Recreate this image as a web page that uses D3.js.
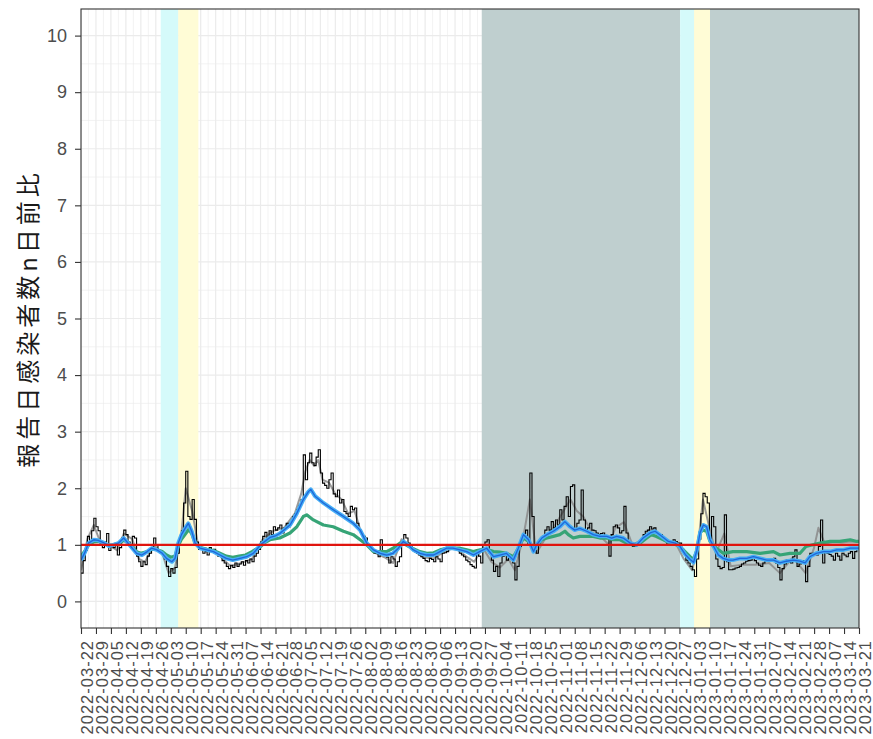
<!DOCTYPE html>
<html><head><meta charset="utf-8">
<script src="https://cdn.jsdelivr.net/npm/d3@7"></script>
<style>body{margin:0;background:#fff}svg{display:block}</style>
</head><body>
<svg id="c" width="873" height="739"></svg>
<script>
// ---------------- DATA ----------------
const startDate = "2022-03-22";
const tickLabels = ["2022-03-22","2022-03-29","2022-04-05","2022-04-12","2022-04-19","2022-04-26","2022-05-03","2022-05-10","2022-05-17","2022-05-24","2022-05-31","2022-06-07","2022-06-14","2022-06-21","2022-06-28","2022-07-05","2022-07-12","2022-07-19","2022-07-26","2022-08-02","2022-08-09","2022-08-16","2022-08-23","2022-08-30","2022-09-06","2022-09-13","2022-09-20","2022-09-27","2022-10-04","2022-10-11","2022-10-18","2022-10-25","2022-11-01","2022-11-08","2022-11-15","2022-11-22","2022-11-29","2022-12-06","2022-12-13","2022-12-20","2022-12-27","2023-01-03","2023-01-10","2023-01-17","2023-01-24","2023-01-31","2023-02-07","2023-02-14","2023-02-21","2023-02-28","2023-03-07","2023-03-14","2023-03-21"];
const yTicks = [0,1,2,3,4,5,6,7,8,9,10];

// daily ratio (black step line), one value per day from startDate
const dailyRatio = [
0.50,0.72,0.90,1.15,1.00,1.25,1.47,
1.32,1.25,1.02,0.95,1.05,1.20,0.90,
1.00,0.95,1.00,0.82,0.95,1.12,1.26,
1.18,1.05,1.00,1.15,1.12,0.80,0.70,
0.62,0.70,0.65,0.80,0.85,0.92,1.12,
1.00,0.90,0.88,0.85,0.75,0.62,0.44,
0.58,0.50,0.60,0.85,1.10,1.25,1.74,
2.30,1.50,1.45,1.80,1.45,1.05,0.92,
0.95,0.85,0.88,0.82,0.95,0.88,0.92,
0.85,0.80,0.82,0.72,0.68,0.62,0.58,
0.64,0.60,0.68,0.62,0.66,0.70,0.64,
0.72,0.68,0.75,0.70,0.80,0.85,0.92,
1.05,1.15,1.22,1.10,1.25,1.18,1.32,
1.26,1.30,1.35,1.21,1.30,1.38,1.32,
1.40,1.50,1.55,1.62,1.70,1.80,2.59,
2.15,2.45,2.62,2.45,2.40,2.55,2.68,
2.27,2.09,2.05,2.00,2.15,2.27,1.90,
1.85,1.97,1.74,1.80,1.59,1.55,1.50,
1.68,1.62,1.65,1.38,1.27,1.20,1.15,
1.12,1.00,0.94,0.90,0.85,0.88,0.79,
1.09,0.85,0.82,0.78,0.68,0.79,0.75,
0.62,0.70,0.79,1.03,1.18,1.12,1.03,
0.97,0.92,0.88,0.85,0.82,0.79,0.76,
0.72,0.70,0.76,0.74,0.70,0.79,0.75,
0.70,0.85,0.86,0.88,0.94,0.92,0.94,
0.92,0.91,0.85,0.82,0.79,0.73,0.70,
0.65,0.62,0.59,0.91,0.80,0.68,1.00,
1.05,1.09,0.85,0.73,0.53,0.62,0.44,
0.68,0.80,0.85,0.73,0.79,0.75,0.68,
0.38,0.62,0.97,1.09,1.20,1.26,1.03,
2.27,1.50,0.90,0.85,1.03,1.10,1.15,
1.26,1.32,1.26,1.41,1.30,1.44,1.35,
1.62,1.44,1.68,1.85,1.50,2.03,2.06,
1.26,1.38,1.44,1.97,1.44,1.26,1.30,
1.38,1.26,1.25,1.21,1.18,1.20,1.21,
1.15,1.15,0.80,1.18,1.32,1.35,1.30,
1.21,1.25,1.68,1.21,1.03,1.00,0.97,
0.98,1.00,1.05,1.09,1.18,1.24,1.26,
1.32,1.28,1.30,1.21,1.18,1.18,1.12,
1.06,1.03,1.03,1.05,1.09,1.06,1.03,
1.03,0.92,0.85,0.73,0.68,0.62,0.56,
0.44,0.75,1.10,1.55,1.91,1.85,1.74,
1.10,1.50,1.32,0.75,0.62,0.58,0.60,
1.53,0.70,0.56,0.56,0.57,0.59,0.60,
0.62,0.66,0.68,0.71,0.72,0.73,0.76,
0.72,0.68,0.64,0.62,0.68,0.72,0.73,
0.71,0.74,0.76,0.68,0.60,0.38,0.58,
0.66,0.73,0.70,0.68,0.79,0.91,0.62,
0.66,0.70,0.72,0.35,0.62,0.85,0.85,
0.84,0.82,0.97,1.44,0.68,0.88,0.85,
0.83,0.80,0.73,0.85,0.80,0.73,0.85,
0.82,0.79,0.85,0.88,0.76,0.88,0.94,
0.92];

// grey line: day offset from startDate, value
const greyDays = [0,3,6,9,13,17,20,24,27,30,34,38,41,44,47,49,52,55,60,65,70,75,80,85,90,95,100,103,105,107,109,111,113,116,119,122,125,128,131,134,138,142,146,150,155,160,165,170,175,180,184,188,192,196,200,203,207,210,213,217,221,225,229,232,235,239,243,247,250,254,258,262,266,270,274,278,282,286,289,291,294,297,301,304,310,316,322,327,333,339,343,345,348,352,356,360,364];
const greyValues = [0.55,1.10,1.35,1.05,1.00,0.90,1.20,1.10,0.75,0.70,1.00,0.85,0.50,0.60,1.20,2.00,1.60,0.95,0.92,0.80,0.62,0.68,0.75,1.10,1.25,1.30,1.55,1.90,2.30,2.50,2.40,2.50,2.15,2.10,1.90,1.80,1.55,1.60,1.22,1.00,0.85,0.78,0.68,1.10,0.92,0.78,0.76,0.88,0.95,0.80,0.70,0.95,0.70,0.60,0.75,0.55,1.15,1.80,0.85,1.10,1.30,1.55,1.80,1.60,1.50,1.22,1.15,1.00,1.30,1.40,1.00,1.08,1.28,1.20,1.05,1.05,0.75,0.55,1.10,1.80,1.30,0.85,1.20,0.62,0.65,0.65,0.68,0.50,0.78,0.50,0.95,1.30,1.02,1.05,1.04,1.06,1.05];

// green smoothed ratio
const greenDays = [0,2,4,6,8,10,13,15,18,20,22,24,26,28,31,33,35,38,40,42,44,45.5,47,49,50.5,52,53.5,56,59,62,65,68,71,74,77,80,84,86,88.4,93,97.8,101,104,105.6,108.7,113.4,118,122.8,127.4,130.6,133.7,136.8,140,143,146,149.3,152,155,158.6,161.8,165,168,171,174,177.4,180.5,183.6,186.7,189.8,193,196,199.2,202.3,204.6,207,209.4,211.7,213.5,215.6,218,221,224,226.4,228,230.3,233.4,236.6,239.7,242.8,246,249,252.2,255.3,258.4,261.6,264.7,266.8,269,272.5,275.6,278.8,280.3,282.6,285,286.6,288.1,289.6,291,292.7,294.3,296,298,300.5,305,311.5,317.7,324,327,331.7,336.4,339.2,342.3,345.8,350.5,355,359.9,363,364];
const greenValues = [0.80,0.90,1.02,1.05,1.06,1.04,0.99,1.00,1.03,1.08,1.04,0.96,0.88,0.85,0.88,0.92,0.92,0.88,0.82,0.78,0.80,0.98,1.10,1.20,1.28,1.18,1.02,0.95,0.92,0.90,0.85,0.80,0.78,0.80,0.82,0.88,0.97,1.04,1.09,1.12,1.21,1.32,1.50,1.53,1.44,1.35,1.32,1.24,1.18,1.09,1.00,0.88,0.88,0.88,0.94,1.03,1.00,0.94,0.88,0.85,0.86,0.91,0.94,0.94,0.94,0.91,0.88,0.91,0.92,0.88,0.87,0.85,0.79,0.94,1.12,1.06,0.94,1.00,1.09,1.12,1.15,1.18,1.24,1.18,1.12,1.15,1.15,1.15,1.12,1.12,1.09,1.09,1.03,1.00,1.03,1.12,1.18,1.15,1.09,1.03,1.00,0.97,0.88,0.79,0.74,0.90,1.22,1.26,1.24,1.06,0.97,0.92,0.85,0.88,0.88,0.85,0.88,0.82,0.85,0.85,0.97,1.00,1.03,1.06,1.06,1.09,1.06,1.06];

// blue smoothed ratio
const blueDays = [0,2,3.5,6,8,10.5,13,15,17.5,20,22,24,26,28.5,31,33,35.5,38,40,42.5,44,45.5,47,48.7,50.2,51.8,53.4,55.7,58.8,62,65,68,71,74.4,77.5,80.6,84,86,88.4,91,93,97.8,101,104,106.4,107.5,109.5,113.4,118,122.8,127.4,130.6,133.7,136.8,140,143,146,148.5,150.8,153,155.5,158.6,161.8,165,168,171,174,177.4,180.5,183.6,186.5,189.8,193,196,199,202.3,204.6,207,209.4,211.7,213.2,215.6,218,221,224,226.4,228.8,231,233.4,236.6,239.7,242.8,246,248.3,250.6,253.7,257,260,263,266.3,268.6,271.7,274.8,278,280.3,282.7,285,286.6,288.1,289.7,291.2,292.7,294.3,296,298.2,300.5,303,305,308.3,311.5,314.6,317.7,320.8,324,327,330,333.3,336.4,338.8,341,344,347.4,350.5,353.6,356.7,360,364];
const blueValues = [0.73,0.88,1.03,1.09,1.08,1.04,0.98,1.00,1.03,1.12,1.03,0.94,0.85,0.82,0.88,0.94,0.91,0.85,0.76,0.70,0.76,1.03,1.18,1.29,1.38,1.24,1.03,0.94,0.91,0.88,0.82,0.76,0.73,0.76,0.79,0.85,1.00,1.06,1.13,1.16,1.20,1.35,1.56,1.80,1.94,1.98,1.86,1.74,1.62,1.50,1.38,1.26,1.03,0.91,0.85,0.82,0.85,0.94,1.06,1.00,0.91,0.85,0.82,0.82,0.88,0.94,0.94,0.91,0.88,0.82,0.88,0.94,0.79,0.82,0.85,0.73,0.94,1.18,1.09,0.88,1.00,1.12,1.18,1.24,1.32,1.41,1.32,1.26,1.29,1.24,1.18,1.15,1.15,1.12,1.15,1.12,1.03,1.00,1.12,1.21,1.24,1.15,1.06,1.03,0.97,0.83,0.74,0.69,0.90,1.22,1.35,1.32,1.09,0.97,0.82,0.76,0.73,0.73,0.76,0.76,0.79,0.76,0.73,0.73,0.68,0.71,0.73,0.71,0.68,0.79,0.85,0.88,0.88,0.91,0.91,0.94,0.94];

// shaded periods
const shadeFrom  = ["2022-04-28T07:00","2022-05-06T12:00","2022-09-25T12:00","2022-12-27T08:00","2023-01-02T20:00","2023-01-10T07:00"];
const shadeTo    = ["2022-05-06T12:00","2022-05-15T22:00","2022-12-27T08:00","2023-01-02T20:00","2023-01-10T07:00","2023-03-21T00:00"];
const shadeColor = ["#D5FAFA","#FFFCD6","#BFCFCF","#D5FAFA","#FFFCD6","#BFCFCF"];
const refLevel = 1;
const yTitle = "報告日感染者数n日前比";

// ---------------- CHART ----------------
const W = 873, H = 739, L = 81, R = 859, T = 9, B = 628;
const parseDay = d3.utcParse("%Y-%m-%d");
const parseTime = d3.utcParse("%Y-%m-%dT%H:%M");
const t0 = parseDay(startDate);
const dayToDate = d => new Date(t0.getTime() + d * 86400000);
const tickDates = tickLabels.map(parseDay);

const x = d3.scaleUtc().domain([tickDates[0], tickDates[tickDates.length - 1]]).range([L, R]);
const y = d3.scaleLinear().domain([-0.47, 10.47]).range([B, T]);

const svg = d3.select("#c");
svg.append("rect").attr("width", W).attr("height", H).attr("fill", "#fff");

svg.append("defs").append("clipPath").attr("id", "clip")
  .append("rect").attr("x", L).attr("y", T).attr("width", R - L).attr("height", B - T);

const panel = svg.append("g").attr("clip-path", "url(#clip)");

// minor grid
const minorX = tickDates.slice(0, -1).map(d => d3.utcHour.offset(d, 84));
const minorY = yTicks.map(v => v + 0.5);
panel.selectAll(".gxm").data(minorX).join("line")
  .attr("x1", d => x(d)).attr("x2", d => x(d)).attr("y1", T).attr("y2", B)
  .attr("stroke", "#EBEBEB").attr("stroke-width", 0.6);
panel.selectAll(".gym").data(minorY).join("line")
  .attr("x1", L).attr("x2", R).attr("y1", d => y(d)).attr("y2", d => y(d))
  .attr("stroke", "#EBEBEB").attr("stroke-width", 0.6);
// major grid
panel.selectAll(".gx").data(tickDates).join("line")
  .attr("x1", d => x(d)).attr("x2", d => x(d)).attr("y1", T).attr("y2", B)
  .attr("stroke", "#EBEBEB").attr("stroke-width", 1.2);
panel.selectAll(".gy").data(yTicks).join("line")
  .attr("x1", L).attr("x2", R).attr("y1", d => y(d)).attr("y2", d => y(d))
  .attr("stroke", "#EBEBEB").attr("stroke-width", 1.2);

// shaded periods
panel.selectAll(".shade").data(shadeFrom).join("rect")
  .attr("x", (d, i) => x(parseTime(d)))
  .attr("width", (d, i) => x(parseTime(shadeTo[i])) - x(parseTime(d)))
  .attr("y", T).attr("height", B - T)
  .attr("fill", (d, i) => shadeColor[i]);

// lines
const greyData = greyDays.map((d, i) => [dayToDate(d), greyValues[i]]);
const blackData = dailyRatio.map((v, i) => [dayToDate(i), v]);
const greenData = greenDays.map((d, i) => [dayToDate(d), greenValues[i]]);
const blueData = blueDays.map((d, i) => [dayToDate(d), blueValues[i]]);

const line = d3.line().x(d => x(d[0])).y(d => y(d[1]));
const stepLine = d3.line().x(d => x(d[0])).y(d => y(d[1])).curve(d3.curveStepAfter);

panel.append("path").attr("d", line(greyData)).attr("fill", "none")
  .attr("stroke", "#8A8A8A").attr("stroke-width", 2).attr("stroke-opacity", 0.85).attr("stroke-linejoin", "round");
panel.append("path").attr("d", stepLine(blackData)).attr("fill", "none")
  .attr("stroke", "#000").attr("stroke-width", 1.1);
panel.append("path").attr("d", line(greenData)).attr("fill", "none")
  .attr("stroke", "#36A476").attr("stroke-width", 3.2).attr("stroke-linejoin", "round");
panel.append("path").attr("d", line(blueData)).attr("fill", "none")
  .attr("stroke", "#45AEF5").attr("stroke-width", 4).attr("stroke-linejoin", "round");
panel.append("path").attr("d", line(blueData)).attr("fill", "none")
  .attr("stroke", "#1F66D9").attr("stroke-width", 1.3).attr("stroke-linejoin", "round");

// reference line
panel.append("line").attr("x1", L).attr("x2", R).attr("y1", y(refLevel)).attr("y2", y(refLevel))
  .attr("stroke", "#E0140E").attr("stroke-width", 2.3);

// panel border
svg.append("rect").attr("x", L).attr("y", T).attr("width", R - L).attr("height", B - T)
  .attr("fill", "none").attr("stroke", "#333").attr("stroke-width", 1.1);

// axes
const xAxis = svg.append("g").attr("transform", `translate(0,${B})`)
  .call(d3.axisBottom(x).tickValues(tickDates).tickFormat((d, i) => tickLabels[i]).tickSize(6).tickSizeOuter(0));
xAxis.select(".domain").remove();
xAxis.selectAll(".tick line").attr("stroke", "#333").attr("stroke-width", 1.1);
xAxis.selectAll(".tick text")
  .attr("x", 0).attr("y", 0).attr("dy", null)
  .attr("transform", "translate(11.5,12) rotate(-90)")
  .attr("text-anchor", "end")
  .attr("fill", "#4D4D4D")
  .style("font-family", "'Liberation Sans', Arial, sans-serif")
  .style("font-size", "16.5px")
  .style("letter-spacing", "1px");

const yAxis = svg.append("g").attr("transform", `translate(${L},0)`)
  .call(d3.axisLeft(y).tickValues(yTicks).tickFormat(d3.format("d")).tickSize(6).tickPadding(8).tickSizeOuter(0));
yAxis.select(".domain").remove();
yAxis.selectAll(".tick line").attr("stroke", "#333").attr("stroke-width", 1.1);
yAxis.selectAll(".tick text")
  .attr("fill", "#4D4D4D")
  .style("font-family", "'Liberation Sans', Arial, sans-serif")
  .style("font-size", "18px");

// y title
svg.append("text")
  .attr("transform", `translate(26,${(T + B) / 2}) rotate(-90)`)
  .attr("text-anchor", "middle")
  .attr("dominant-baseline", "central")
  .attr("fill", "#1A1A1A")
  .style("font-family", "'Noto Sans CJK JP', sans-serif")
  .style("font-size", "24px")
  .style("letter-spacing", "4px")
  .text(yTitle);
</script>
</body></html>
